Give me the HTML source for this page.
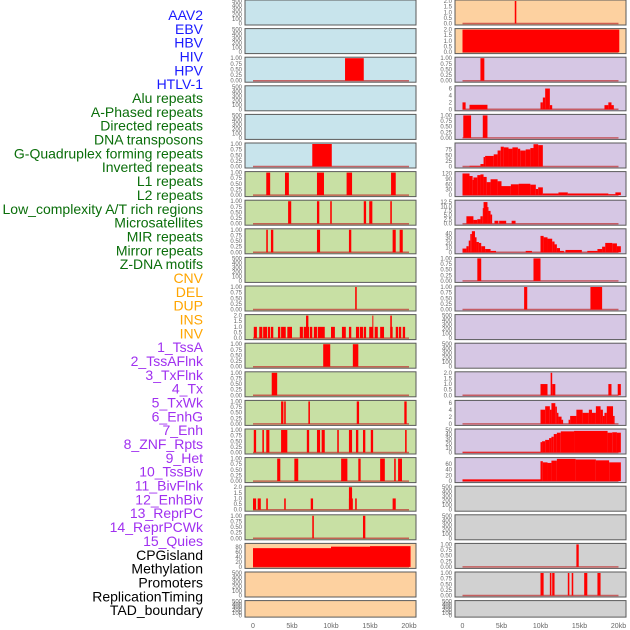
<!DOCTYPE html>
<html><head><meta charset="utf-8"><style>
body{margin:0;width:630px;height:630px;background:#fff;overflow:hidden;font-family:"Liberation Sans",sans-serif}
svg{position:absolute;left:0;top:0}
</style></head><body>
<svg id="c" width="630" height="630" xmlns="http://www.w3.org/2000/svg"></svg>
<script>
const trackLabels=["AAV2","EBV","HBV","HIV","HPV","HTLV-1","Alu repeats","A-Phased repeats","Directed repeats","DNA transposons","G-Quadruplex forming repeats","Inverted repeats","L1 repeats","L2 repeats","Low_complexity A/T rich regions","Microsatellites","MIR repeats","Mirror repeats","Z-DNA motifs","CNV","DEL","DUP","INS","INV","1_TssA","2_TssAFlnk","3_TxFlnk","4_Tx","5_TxWk","6_EnhG","7_Enh","8_ZNF_Rpts","9_Het","10_TssBiv","11_BivFlnk","12_EnhBiv","13_ReprPC","14_ReprPCWk","15_Quies","CPGisland","Methylation","Promoters","ReplicationTiming","TAD_boundary"];
const labelGroups=[6,13,5,15,5];
const groupColors=["#1a1aff","#0a6e0a","#ffa500","#a030f0","#000"];
const xTickLabels=["0","5kb","10kb","15kb","20kb"];
const xTickValues=[0,5,10,15,20];
// left column panels (kb start, kb end, value)
const left0=[],left1=[],left3=[],left4=[],left9=[],left20=[],left21=[];
const left2=[[11.8,14.2,1]];
const left5=[[7.6,10.1,1]];
const left6=[[1.7,2.2,1],[4.1,4.6,1],[8.2,9.1,1],[12.0,12.7,1],[17.7,18.3,1]];
const left7=[[4.5,4.9,1],[8.2,8.5,1],[9.9,10.1,1],[14.2,14.5,1],[14.9,15.3,1],[17.6,17.8,1]];
const left8=[[1.7,1.9,1],[2.3,2.6,1],[8.2,8.6,1],[12.3,12.6,1],[17.9,18.3,1],[18.8,19.2,1]];
const left10=[[13.1,13.3,1]];
const left11=[[0.1,0.5,1],[0.8,1.2,1],[1.3,1.8,1],[1.9,2.2,1],[2.3,2.6,1],[3.2,3.5,1],[3.6,4.2,1],[4.4,5.0,1],[6.0,6.4,1],[6.5,7.2,1],[6.8,7.1,2],[7.3,7.6,1],[7.8,8.2,1],[8.3,9.2,1],[10.0,10.5,1],[11.4,11.9,1],[12.3,12.6,1],[13.2,13.6,1],[13.7,14.1,1],[14.2,14.5,1],[14.9,15.4,1],[15.3,15.4,2],[15.6,16.0,1],[16.3,16.8,1],[17.6,17.9,1],[17.6,17.8,2],[18.3,18.6,1],[18.7,19.0,1],[19.2,19.5,1]];
const left12=[[9.0,9.9,1],[12.8,13.5,1]];
const left13=[[2.4,3.1,1]];
const left14=[[3.6,3.9,1],[4.0,4.2,1],[7.1,7.3,1],[13.3,13.6,1],[19.4,19.7,1]];
const left15=[[0.1,0.4,1],[1.2,1.4,1],[1.7,2.1,1],[3.6,4.4,1],[6.9,7.2,1],[8.2,8.6,1],[8.8,9.2,1],[10.8,11.0,1],[12.3,12.7,1],[13.2,13.5,1],[14.1,14.4,1],[15.1,15.4,1],[19.5,19.7,1]];
const left16=[[3.1,3.5,1],[5.3,5.8,1],[11.3,12.1,1],[13.5,13.8,1],[16.3,16.9,1],[18.1,18.3,1],[18.6,19.1,1]];
const left17=[[0.0,0.4,1],[0.6,1.0,1],[1.7,1.9,1],[4.0,4.2,1],[7.4,7.7,1],[12.3,12.8,1],[12.3,12.7,2],[13.1,13.3,1],[17.9,18.3,1]];
const left18=[[7.6,7.8,1],[14.1,14.4,1]];
const left19=[[0,10,75],[10,15,81],[15,20.2,83]];
// right column panels
const right11=[],right12=[],right17=[],right18=[],right21=[];
const right0=[[6.7,6.9,2]];
const right1=[[0,20.1,2]];
const right2=[[2.3,2.8,1]];
const right3=[[0,0.4,2],[0.9,3.2,1.3],[10.0,10.3,2],[10.3,10.6,3.4],[10.6,11.2,6],[11.2,11.5,1.2],[18.2,18.7,1.2],[18.7,19.1,2],[19.1,19.4,1.2]];
const right4=[[0.1,1.1,1],[2.6,3.2,1]];
const right5=[[0.9,2.3,3],[2.3,2.7,11],[2.7,2.9,42],[2.9,4.0,47],[4.0,4.5,54],[4.5,4.9,71],[4.9,5.3,88],[5.3,5.9,85],[5.9,6.4,79],[6.4,7.1,85],[7.1,7.4,79],[7.4,8.1,71],[8.1,8.7,76],[8.7,9.1,82],[9.1,9.7,99],[9.7,10.3,95]];
const right6=[[0,0.9,120],[0.9,1.3,106],[1.3,1.4,84],[1.4,1.9,98],[1.9,2.3,111],[2.3,2.7,115],[2.7,3.1,101],[3.1,3.6,72],[3.6,4.5,88],[4.5,5.0,77],[5.0,6.2,50],[6.2,7.2,60],[7.2,8.7,63],[8.7,9.4,58],[9.4,9.7,34],[9.7,10.3,43],[10.3,12.3,9],[12.3,13.5,15],[13.5,18.7,9],[18.7,19.6,5],[19.6,20.3,15]];
const right7=[[0.5,1.4,4.3],[1.4,1.9,2.2],[1.9,2.3,2.6],[2.3,2.6,4.3],[2.6,2.7,9],[2.7,3.2,12.5],[3.2,3.3,9.6],[3.3,3.6,7.4],[3.6,3.8,5.3],[4.1,4.6,1.7],[4.7,5.6,1.7],[6.3,6.8,1.7]];
const right8=[[0,0.5,8],[0.5,0.8,13],[0.8,1.0,25],[1.0,1.2,39],[1.2,1.6,45],[1.6,1.8,32],[1.8,2.1,22],[2.1,2.4,20],[2.4,2.9,13],[2.9,3.6,7],[3.6,4.3,3],[8.1,8.9,3],[10.0,10.4,35],[10.4,10.9,32],[10.9,11.5,29],[11.5,11.8,23],[11.8,12.1,17],[12.1,12.5,9],[12.5,13.0,3],[13.2,15.3,5],[16.0,17.3,3],[17.3,17.9,7],[17.9,18.3,12],[18.3,19.2,20],[19.2,19.8,19],[19.8,20.3,13]];
const right9=[[1.9,2.4,1],[9.1,10.0,1]];
const right10=[[7.9,8.3,1],[16.4,17.9,1]];
const right13=[[10.0,10.9,1],[11.3,11.5,2],[11.5,11.9,1],[18.7,19.1,1],[19.9,20.3,1]];
const right14=[[10.0,10.6,4.1],[10.6,11.2,5.1],[11.2,11.4,4.1],[11.4,11.9,6],[11.9,12.1,5],[12.1,12.3,3.2],[12.3,12.7,2.1],[12.7,12.9,1.2],[13.6,13.8,1.2],[13.8,14.6,2.3],[14.6,15.4,4.1],[15.4,16.2,3.2],[16.2,16.6,4.1],[16.6,17.1,3.2],[17.1,17.7,5.1],[17.7,18.0,4.1],[18.0,18.2,2.3],[18.2,18.5,3.2],[18.5,19.3,5.1],[19.3,19.5,2.3]];
const right15=[[0,10.0,1.5],[10.0,10.2,23],[10.2,10.6,25],[10.6,11.1,28],[11.1,11.4,32],[11.4,11.7,35],[11.7,12.1,41],[12.1,12.6,44],[12.6,14.3,47],[14.3,18.6,48],[18.6,19.2,44],[19.2,19.8,45],[19.8,20.3,44]];
const right16=[[0,10.0,6],[10.0,10.3,69],[10.3,10.9,65],[10.9,11.4,63],[11.4,12.1,71],[12.1,14.5,77],[14.5,17.1,75],[17.1,18.8,72],[18.8,20.3,65]];
const right19=[[14.6,14.9,1]];
const right20=[[10.0,10.4,1],[11.2,11.4,1],[11.5,11.8,1],[13.5,13.7,1],[14.0,14.2,1],[15.6,16.0,1],[17.3,17.7,1]];

const T500=["0","100","200","300","400","500"],T1=["0.00","0.25","0.50","0.75","1.00"],T2=["0.0","0.5","1.0","1.5","2.0"];
const leftMax=[500,500,1,500,500,1,1,1,1,500,1,2,1,1,1,1,1,2,1,90,500,500];
const rightMax=[2,2,1,6.5,1,100,125,13,48,1,1,500,500,2,6.5,50,78,500,500,1,1,500];
const leftTicks=[T500,T500,T1,T500,T500,T1,T1,T1,T1,T500,T1,T2,T1,T1,T1,T1,T1,T2,T1,["0","20","40","60","80"],T500,T500];
const rightTicks=[T2,T2,T1,["0","2","4","6"],T1,["0","25","50","75"],["0","30","60","90","120"],["0.0","2.5","5.0","7.5","10.0","12.5"],["0","10","20","30","40"],T1,T1,T500,T500,T2,["0","2","4","6"],["0","10","20","30","40","50"],["0","20","40","60"],T500,T500,T1,T1,T500];
const leftBg=["b","b","b","b","b","b","g","g","g","g","g","g","g","g","g","g","g","g","g","o","o","o"];
const rightBg=["o","o","p","p","p","p","p","p","p","p","p","p","p","p","p","p","p","g2","g2","g2","g2","g2"];
const bgCol={b:"#c8e4ec",g:"#c8e0a4",o:"#fdd1a0",p:"#d6c7e4",g2:"#d1d1d1"};
const leftData=[left0,left1,left2,left3,left4,left5,left6,left7,left8,left9,left10,left11,left12,left13,left14,left15,left16,left17,left18,left19,left20,left21];
const rightData=[right0,right1,right2,right3,right4,right5,right6,right7,right8,right9,right10,right11,right12,right13,right14,right15,right16,right17,right18,right19,right20,right21];

const NS="http://www.w3.org/2000/svg",svg=document.getElementById('c');
function mk(t,a,p){const e=document.createElementNS(NS,t);for(const k in a)e.setAttribute(k,a[k]);(p||svg).appendChild(e);return e;}
// labels
let li=0;
labelGroups.forEach((n,g)=>{for(let j=0;j<n;j++){const t=mk('text',{x:203,y:20+li*13.84,'text-anchor':'end','font-size':14,fill:groupColors[g],'font-family':'Liberation Sans, sans-serif'});


t.textContent=trackLabels[li];li++;}});
function panel(col,row,data,ymax,ticks,bg){
  const x0=col?455:245,w=171,top=row*28.6,h=row===21?16.5:25;
  const g=mk('g',{});
  
  
  mk('rect',{x:x0,y:top,width:w,height:h,fill:bgCol[bg],stroke:'#5a5a5a','stroke-width':1},g);
  const yb=top+h-1.5,yh=h-2.5;
  const ys=v=>yb-v/ymax*yh;
  const xs=k=>x0+(col?7.5:8)+k*7.8;
  const maxT=parseFloat(ticks[ticks.length-1]);
  ticks.forEach(tl=>{const v=parseFloat(tl);const yy=yb-v/(ymax>=maxT?ymax:maxT)*yh;
    const t=mk('text',{x:x0-3,y:yy+2,'text-anchor':'end','font-size':6,fill:'#666'},g);
    
    
    t.textContent=tl;});
  if(data.length){
    const bl=mk('line',{x1:xs(0),x2:xs(20),y1:yb,y2:yb,stroke:'#c03030','stroke-width':1.5,opacity:0.7},g);
    
    
  }
  data.forEach(d=>{const r=mk('rect',{x:xs(d[0]),y:ys(d[2]),width:Math.max(1,xs(d[1])-xs(d[0])),height:yb-ys(d[2]),fill:'#ff0000'},g);
    
    });
}
for(let r=0;r<22;r++){panel(0,r,leftData[r],leftMax[r],leftTicks[r],leftBg[r]);panel(1,r,rightData[r],rightMax[r],rightTicks[r],rightBg[r]);}
[245,455].forEach((x0,ci)=>{xTickValues.forEach((v,i)=>{const t=mk('text',{x:x0+(ci?7.5:8)+v*7.8,y:628,'text-anchor':'middle','font-size':7,fill:'#666'});
  
  
  t.textContent=xTickLabels[i];});});
</script>
</body></html>
